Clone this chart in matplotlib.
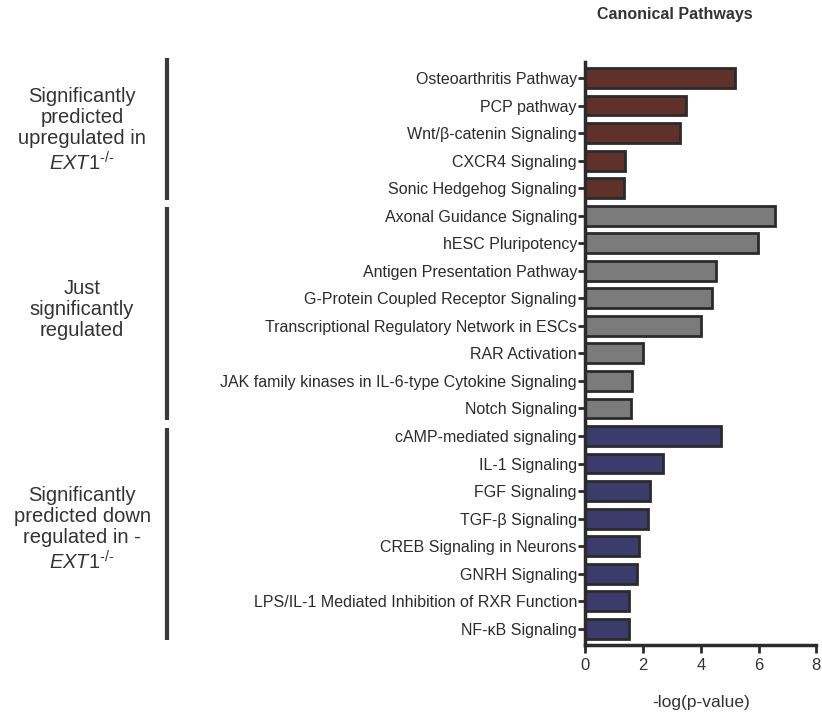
import matplotlib.pyplot as plt
import matplotlib.transforms as mtransforms

plt.rcParams['font.family'] = ['Liberation Sans', 'DejaVu Sans']
plt.rcParams['mathtext.fontset'] = 'custom'
plt.rcParams['mathtext.rm'] = 'Liberation Sans'
plt.rcParams['mathtext.it'] = 'Liberation Sans:italic'

# pathways, top to bottom, split in three groups
up_paths = ['Osteoarthritis Pathway', 'PCP pathway', 'Wnt/β-catenin Signaling',
            'CXCR4 Signaling', 'Sonic Hedgehog Signaling']
up_vals = [5.19, 3.50, 3.29, 1.38, 1.33]

reg_paths = ['Axonal Guidance Signaling', 'hESC Pluripotency',
             'Antigen Presentation Pathway', 'G-Protein Coupled Receptor Signaling',
             'Transcriptional Regulatory Network in ESCs', 'RAR Activation',
             'JAK family kinases in IL-6-type Cytokine Signaling', 'Notch Signaling']
reg_vals = [6.57, 5.99, 4.53, 4.39, 4.01, 2.00, 1.63, 1.60]

down_paths = ['cAMP-mediated signaling', 'IL-1 Signaling', 'FGF Signaling',
              'TGF-β Signaling', 'CREB Signaling in Neurons', 'GNRH Signaling',
              'LPS/IL-1 Mediated Inhibition of RXR Function', 'NF-κB Signaling']
down_vals = [4.70, 2.70, 2.25, 2.18, 1.87, 1.80, 1.52, 1.52]

ko = '$\\mathit{EXT1}^{\\mathit{\u2010/\u2010}}$'
group_labels = ['Significantly\npredicted\nupregulated in\n' + ko,
                'Just\nsignificantly\nregulated',
                'Significantly\npredicted down\nregulated in -\n' + ko]
group_colors = ['#60302b', '#7b7b7b', '#3b3b6c']

groups = [(up_paths, up_vals), (reg_paths, reg_vals), (down_paths, down_vals)]

fig = plt.figure(figsize=(8.22, 7.13), dpi=100)
ax = fig.add_axes([0.712, 0.095, 0.281, 0.818])

labels = []
pos = 0
spans = []
for (paths, vals), col in zip(groups, group_colors):
    ys = list(range(pos, pos + len(paths)))
    ax.barh(ys, vals, height=0.72, color=col, edgecolor='#2b2b2b', linewidth=2)
    labels += paths
    spans.append((ys[0], ys[-1]))
    pos += len(paths)

ax.set_yticks(range(len(labels)))
ax.set_yticklabels(labels, fontsize=11.5, color='#222222')
ax.set_ylim(pos - 0.4, -0.58)
ax.set_xlim(0, 8)
ax.set_xticks([0, 2, 4, 6, 8])
ax.tick_params(axis='x', labelsize=12, length=6, width=2, colors='#2b2b2b', pad=3)
ax.tick_params(axis='y', length=5, width=2, colors='#2b2b2b', pad=1)
for lab in ax.get_xticklabels():
    lab.set_color('#333333')
for s in ['top', 'right']:
    ax.spines[s].set_visible(False)
for s in ['left', 'bottom']:
    ax.spines[s].set_linewidth(2.5)
    ax.spines[s].set_color('#2b2b2b')
ax.set_xlabel('-log(p-value)', fontsize=12.5, color='#333333', labelpad=16)

# group brackets and captions on the left
trans = mtransforms.blended_transform_factory(fig.transFigure, ax.transData)
for (first, last), text in zip(spans, group_labels):
    top = first - 0.3 if first > 0 else -0.72
    ax.plot([167 / 822, 167 / 822], [top, last + 0.42], transform=trans,
            color='#3a3a3a', linewidth=3, clip_on=False, solid_capstyle='butt')
    ax.text(82 / 822, (first + last) / 2 - 0.1, text, transform=trans, ha='center',
            va='center', fontsize=14.5, color='#333333', linespacing=1.15)

fig.text(675 / 822, 1 - 15 / 713, 'Canonical Pathways', ha='center', va='center',
         fontsize=11.5, fontweight='bold', color='#333333')

fig.savefig('out.png', dpi=100)
